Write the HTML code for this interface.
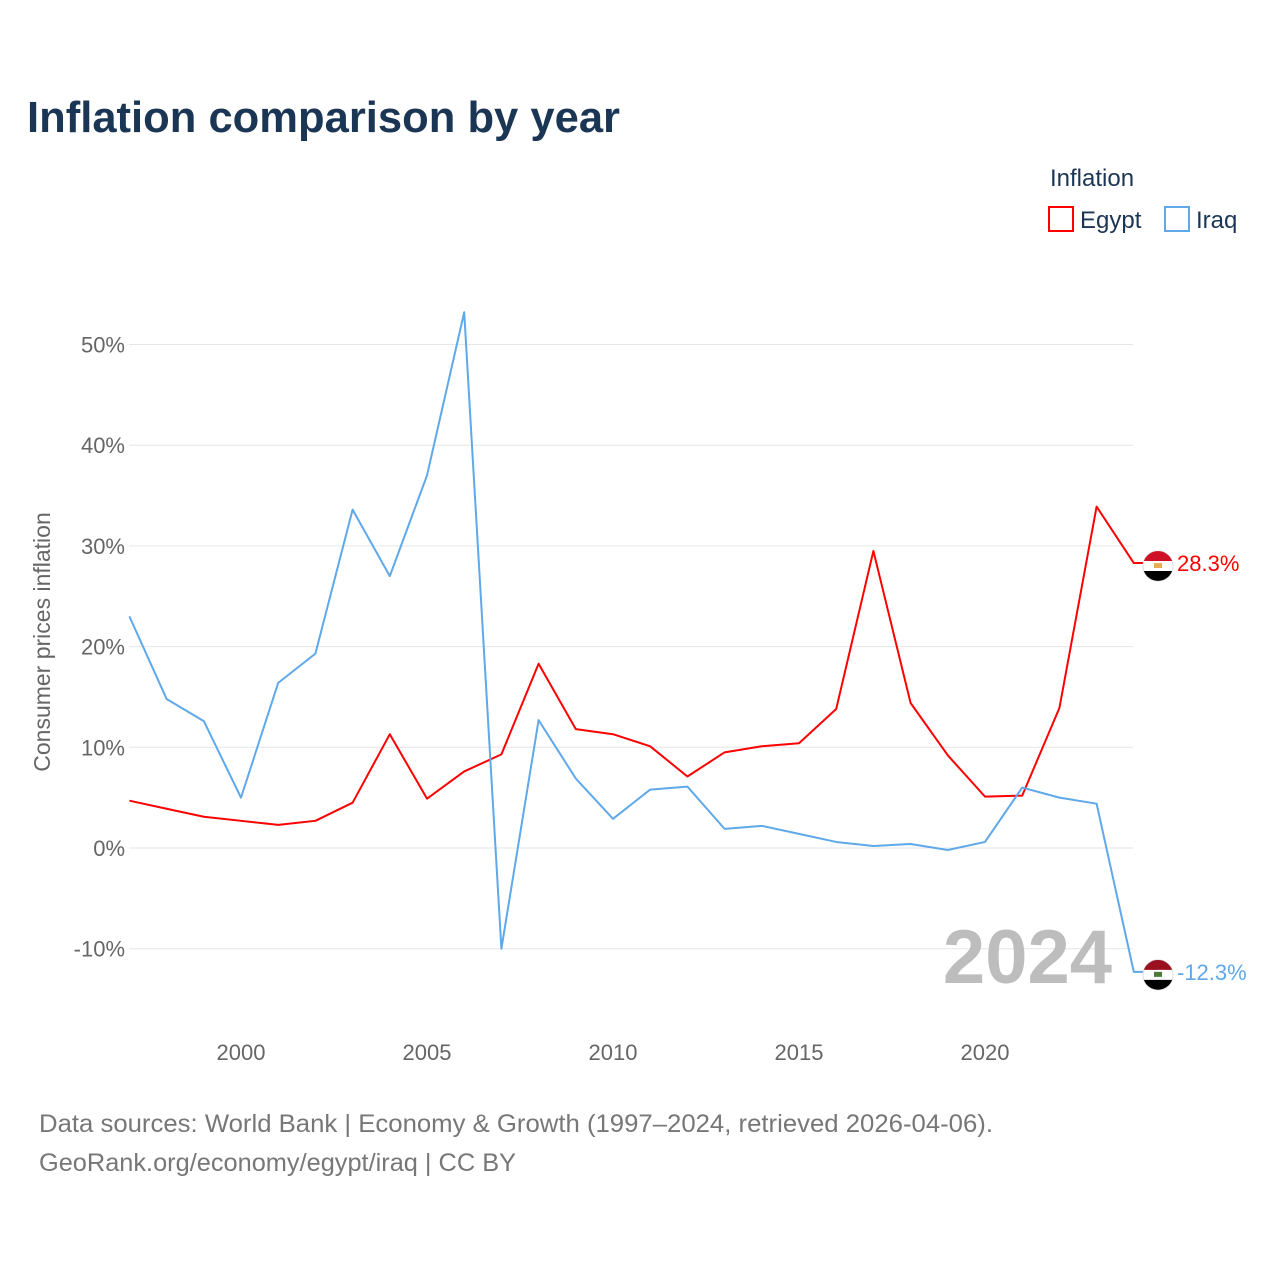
<!DOCTYPE html>
<html><head><meta charset="utf-8"><style>
body{margin:0;background:#fff;font-family:"Liberation Sans",sans-serif;}
#wrap{position:relative;width:1280px;height:1280px;overflow:hidden}
</style></head><body><div id="wrap">
<svg id="chart" width="1280" height="1280" xmlns="http://www.w3.org/2000/svg"></svg>
</div>
<script>
const years=[1997,1998,1999,2000,2001,2002,2003,2004,2005,2006,2007,2008,2009,2010,2011,2012,2013,2014,2015,2016,2017,2018,2019,2020,2021,2022,2023,2024];
const egypt=[4.7,3.9,3.1,2.7,2.3,2.7,4.5,11.3,4.9,7.6,9.3,18.3,11.8,11.3,10.1,7.1,9.5,10.1,10.4,13.8,29.5,14.4,9.2,5.1,5.2,13.9,33.9,28.3];
const iraq=[23.0,14.8,12.6,5.0,16.4,19.3,33.6,27.0,37.0,53.2,-10.0,12.7,6.9,2.9,5.8,6.1,1.9,2.2,1.4,0.6,0.2,0.4,-0.2,0.6,6.0,5.0,4.4,-12.3];
const yTicks=[-10,0,10,20,30,40,50];
const xTicks=[2000,2005,2010,2015,2020];
const NS="http://www.w3.org/2000/svg";
const svg=document.getElementById('chart');
const x=v=>129.4+(v-1997)*37.2;
const y=v=>848-v*10.07;
function el(t,a,txt){const e=document.createElementNS(NS,t);for(const k in a)e.setAttribute(k,a[k]);if(txt!==undefined)e.textContent=txt;svg.appendChild(e);return e;}
let e;
e=el('text',{x:27,y:132,'font-size':44,'font-weight':'bold',fill:'#1b3555',textLength:593,lengthAdjust:'spacingAndGlyphs'},'Inflation comparison by year');


e=el('text',{x:1050,y:186,'font-size':24,fill:'#1b3555'},'Inflation');


e=el('rect',{x:1049,y:207,width:24,height:24,fill:'none',stroke:'#ff0000','stroke-width':2});


e=el('text',{x:1080,y:228,'font-size':24,fill:'#1b3555'},'Egypt');


e=el('rect',{x:1165,y:207,width:24,height:24,fill:'none',stroke:'#5fa8ea','stroke-width':2});


e=el('text',{x:1196,y:228,'font-size':24,fill:'#1b3555'},'Iraq');


yTicks.forEach(t=>{
  e=el('line',{x1:129,x2:1133,y1:y(t),y2:y(t),stroke:'#e6e6e6','stroke-width':1});
  
  
  e=el('text',{x:125,y:y(t)+8,'font-size':22,fill:'#666','text-anchor':'end'},t+'%');
  
  
});
xTicks.forEach(t=>{
  e=el('text',{x:x(t),y:1060,'font-size':22,fill:'#666','text-anchor':'middle'},String(t));
  
  
});
e=el('text',{x:0,y:0,'font-size':23,fill:'#666','text-anchor':'middle',transform:'translate(50,642) rotate(-90)'},'Consumer prices inflation');


e=el('text',{x:1112,y:983,'font-size':76,'font-weight':'bold',fill:'#bdbdbd','text-anchor':'end'},'2024');


function line(data,color,name){
  const pts=data.map((v,i)=>x(years[i])+','+y(v));
  const last=data[data.length-1];
  pts.push((x(years[years.length-1])+24)+','+y(last));
  e=el('polyline',{points:pts.join(' '),fill:'none',stroke:color,'stroke-width':2,'stroke-linejoin':'round'});
  
  
  const cx=1158,cy=y(last)+3;
  e=el('circle',{cx:cx,cy:cy,r:15,fill:'#fff',stroke:'#ddd'});
  
  
  const top=name==='egypt'?'#ce1126':'#9b0f1e';
  e=el('path',{d:`M${cx-14.1},${cy-5} A15,15 0 0 1 ${cx+14.1},${cy-5} Z`,fill:top});
  
  
  e=el('path',{d:`M${cx-14.1},${cy+5} A15,15 0 0 0 ${cx+14.1},${cy+5} Z`,fill:'#000'});
  
  
  e=el('rect',{x:cx-4,y:cy-3,width:8,height:5,fill:name==='egypt'?'#e8b04a':'#4a7a3a'});
  
  
  e=el('text',{x:1177,y:y(last)+8,'font-size':22,fill:color},last+'%');
  
  
}
line(egypt,'#ff0000','egypt');
line(iraq,'#5fa8ea','iraq');
e=el('text',{x:39,y:1132,'font-size':25,fill:'#777',textLength:954,lengthAdjust:'spacingAndGlyphs'},'Data sources: World Bank | Economy & Growth (1997–2024, retrieved 2026-04-06).');


e=el('text',{x:39,y:1171,'font-size':25,fill:'#777',textLength:477,lengthAdjust:'spacingAndGlyphs'},'GeoRank.org/economy/egypt/iraq | CC BY');


</script></body></html>
